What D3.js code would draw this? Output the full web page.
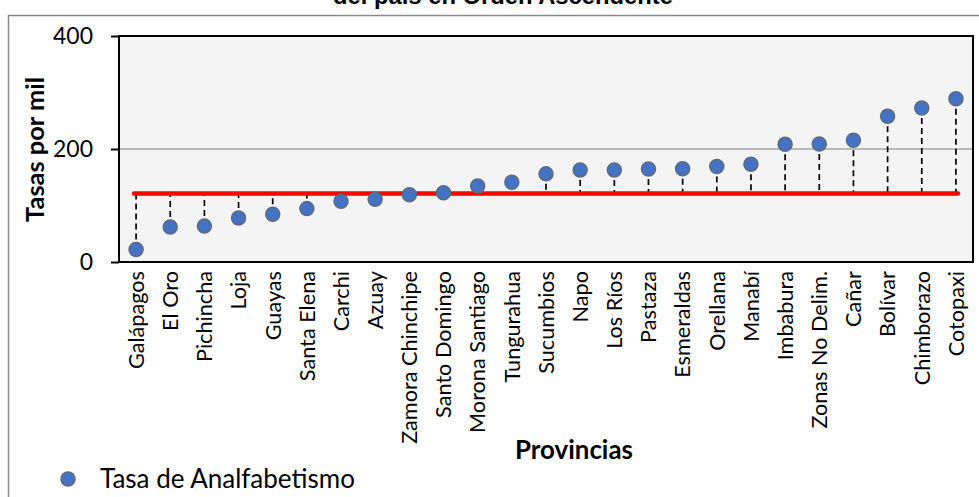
<!DOCTYPE html>
<html>
<head>
<meta charset="utf-8">
<script src="https://cdn.jsdelivr.net/npm/d3@7"></script>
<style>
  html, body { margin: 0; padding: 0; background: #ffffff; }
  svg { display: block; }
</style>
</head>
<body>
<svg id="chart" width="979" height="497"></svg>
<script>
// ---- data ----
const provincias = ["Galápagos","El Oro","Pichincha","Loja","Guayas","Santa Elena","Carchi","Azuay",
  "Zamora Chinchipe","Santo Domingo","Morona Santiago","Tungurahua","Sucumbios","Napo","Los Ríos",
  "Pastaza","Esmeraldas","Orellana","Manabí","Imbabura","Zonas No Delim.","Cañar","Bolívar",
  "Chimborazo","Cotopaxi"];
const tasas = [22, 62, 63.5, 78, 84.5, 94.5, 107.5, 111, 119, 122.5, 134.5, 141, 156, 163, 163,
  164.5, 165, 169, 173, 208.5, 209, 215.5, 258, 272.5, 289];
const promedio = [121.2];
const yTicks = [0, 200, 400];
const titulo = ["Tasa de Analfabetismo por provincias", "del país en Orden Ascendente"];
const ejeY = "Tasas por mil";
const ejeX = "Provincias";
const leyenda = "Tasa de Analfabetismo";

// ---- drawing ----
const svg = d3.select("#chart");
const FONT = "Lato, 'Open Sans', sans-serif";
const plot = { left: 119, right: 973, top: 36, bottom: 262 };

// scale a text's font-size so that its rendered length matches the wanted length
function fitSize(sel, family, weight, wanted, probe) {
  const t = svg.append("text").attr("font-family", family).attr("font-weight", weight)
    .attr("font-size", 20).text(probe);
  const w = t.node().getComputedTextLength();
  t.remove();
  return 20 * wanted / w;
}

// outer chart frame
svg.append("rect")
  .attr("x", 8.5).attr("y", 15.5)
  .attr("width", 1000).attr("height", 600)
  .attr("fill", "#ffffff").attr("stroke", "#8c8c8c").attr("stroke-width", 1.5);

// title (upper part cut off by the page edge, as in the reference)
const TFONT = "'Liberation Sans', Arial, sans-serif";
svg.append("text")
  .attr("x", 503).attr("y", 4)
  .attr("text-anchor", "middle")
  .attr("font-family", TFONT)
  .attr("font-weight", "bold").attr("font-size", fitSize(null, TFONT, "bold", 340, titulo[1]))
  .attr("fill", "#000")
  .text(titulo[1]);

const x = d3.scaleBand().domain(provincias).range([plot.left, plot.right]).padding(0);
const cx = d => x(d) + x.bandwidth() / 2;
const y = d3.scaleLinear().domain([0, 400]).range([plot.bottom, plot.top]);

// plot background
svg.append("rect")
  .attr("x", plot.left).attr("y", plot.top)
  .attr("width", plot.right - plot.left).attr("height", plot.bottom - plot.top)
  .attr("fill", "#f4f4f4");

// gridlines
svg.append("g").selectAll("line")
  .data(yTicks.filter(t => t > 0 && t < 400))
  .join("line")
  .attr("x1", plot.left).attr("x2", plot.right)
  .attr("y1", d => y(d)).attr("y2", d => y(d))
  .attr("stroke", "#a6a6a6").attr("stroke-width", 1.3);

// y axis
const tickSize = fitSize(null, FONT, "normal", 40, "400");
const yAxis = svg.append("g")
  .attr("transform", `translate(${plot.left},0)`)
  .call(d3.axisLeft(y).tickValues(yTicks).tickSize(8).tickPadding(18));
yAxis.select(".domain").remove();
yAxis.selectAll(".tick line").attr("stroke", "#000").attr("stroke-width", 2);
yAxis.selectAll(".tick text")
  .attr("font-family", FONT).attr("font-size", tickSize).attr("fill", "#000");

// plot border
svg.append("rect")
  .attr("x", plot.left).attr("y", plot.top)
  .attr("width", plot.right - plot.left).attr("height", plot.bottom - plot.top)
  .attr("fill", "none").attr("stroke", "#000").attr("stroke-width", 2);

// x axis labels
const catSize = fitSize(null, FONT, "normal", 173, "Zamora Chinchipe");
const xAxis = svg.append("g")
  .attr("transform", `translate(0,${plot.bottom})`)
  .call(d3.axisBottom(x).tickSize(0).tickPadding(0));
xAxis.select(".domain").remove();
xAxis.selectAll(".tick text")
  .attr("font-family", FONT).attr("font-size", catSize).attr("fill", "#000")
  .attr("text-anchor", "end")
  .attr("transform", "rotate(-90)")
  .attr("x", -9).attr("y", 0).attr("dy", "0.36em");

// dashed drop lines to average
svg.append("g").selectAll("line")
  .data(provincias)
  .join("line")
  .attr("x1", d => cx(d)).attr("x2", d => cx(d))
  .attr("y1", (d, i) => y(tasas[i])).attr("y2", y(promedio[0]))
  .attr("stroke", "#000").attr("stroke-width", 1.7)
  .attr("stroke-dasharray", "6,4");

// average line
svg.append("line")
  .attr("x1", cx(provincias[0]) - 2).attr("x2", cx(provincias[provincias.length - 1]) + 2)
  .attr("y1", y(promedio[0])).attr("y2", y(promedio[0]))
  .attr("stroke", "#ff0000").attr("stroke-width", 4.5).attr("stroke-linecap", "round");

// points
svg.append("g").selectAll("circle")
  .data(provincias)
  .join("circle")
  .attr("cx", d => cx(d))
  .attr("cy", (d, i) => y(tasas[i]))
  .attr("r", 7)
  .attr("fill", "#4472c4").attr("stroke", "#5f6b7a").attr("stroke-width", 1.5);

// axis titles
svg.append("text")
  .attr("transform", `translate(35,${(77 + 222) / 2}) rotate(-90)`)
  .attr("text-anchor", "middle").attr("dy", "0.35em")
  .attr("font-family", FONT).attr("font-weight", "bold")
  .attr("font-size", fitSize(null, FONT, "bold", 145, ejeY))
  .attr("fill", "#000")
  .text(ejeY);

svg.append("text")
  .attr("x", 574).attr("y", 450)
  .attr("text-anchor", "middle").attr("dy", "0.35em")
  .attr("font-family", FONT).attr("font-weight", "bold")
  .attr("font-size", fitSize(null, FONT, "bold", 118, ejeX))
  .attr("fill", "#000")
  .text(ejeX);

// legend
svg.append("circle")
  .attr("cx", 68).attr("cy", 479).attr("r", 7)
  .attr("fill", "#4472c4").attr("stroke", "#5f6b7a").attr("stroke-width", 1.5);
svg.append("text")
  .attr("x", 100).attr("y", 479).attr("dy", "0.35em")
  .attr("font-family", FONT).attr("font-size", fitSize(null, FONT, "normal", 255, leyenda))
  .attr("fill", "#000")
  .text(leyenda);
</script>
</body>
</html>
